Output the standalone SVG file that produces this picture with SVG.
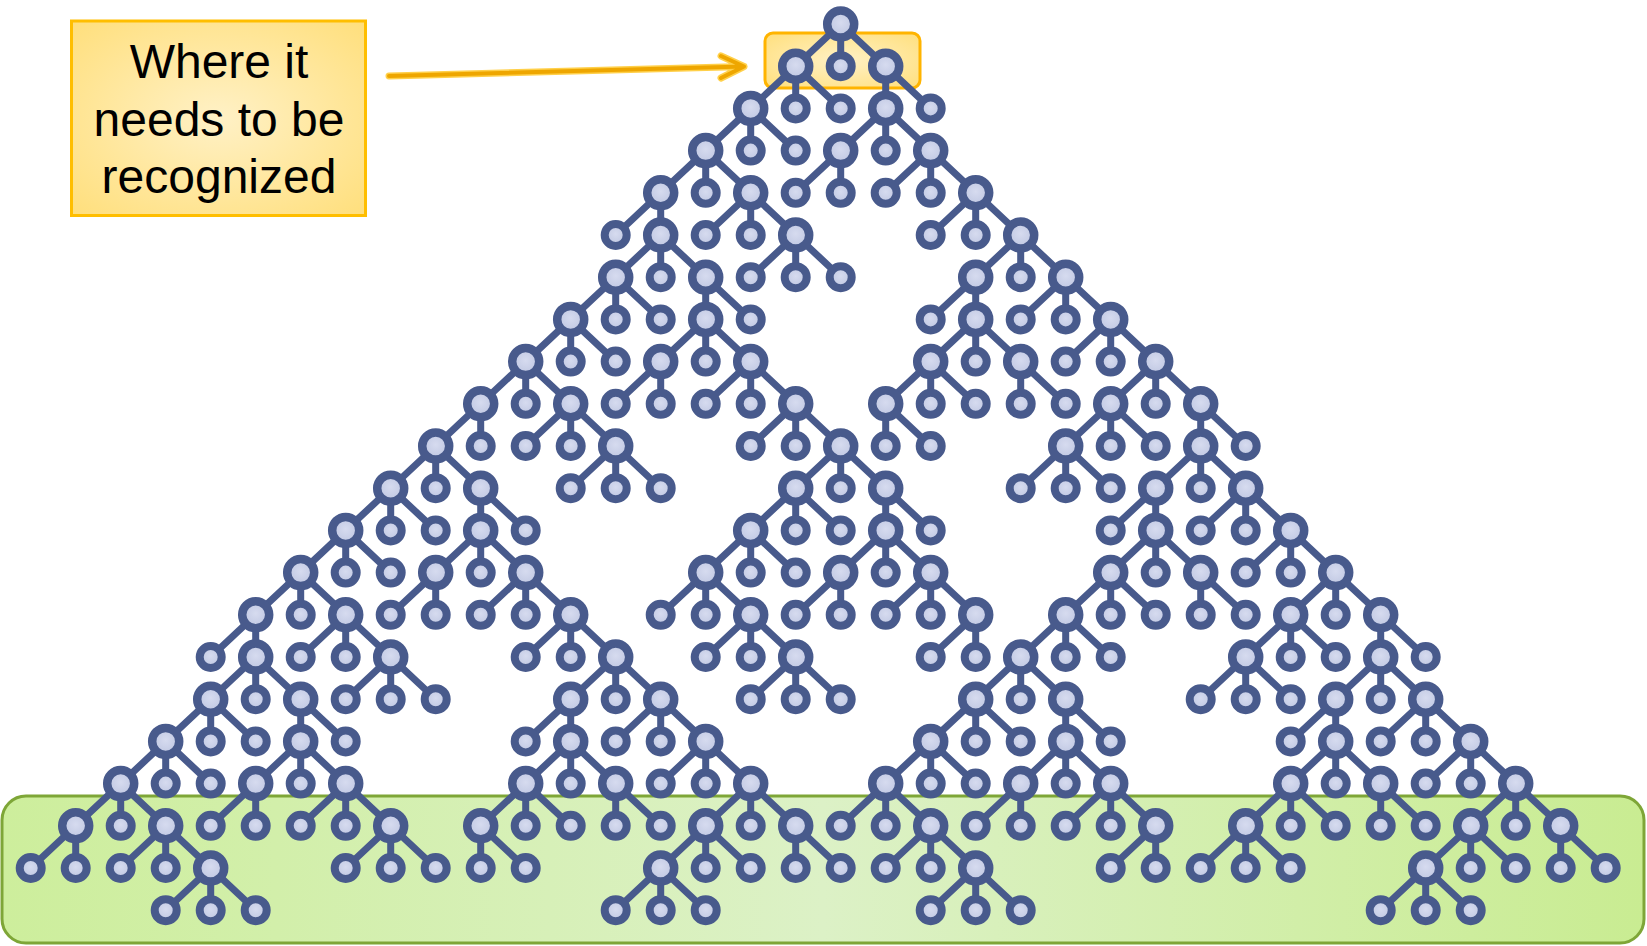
<svg xmlns="http://www.w3.org/2000/svg" width="1647" height="946" viewBox="0 0 1647 946">
<defs>
<radialGradient id="nf" cx="50%" cy="45%" r="60%"><stop offset="0" stop-color="#d6dbef"/><stop offset="1" stop-color="#bcc4e0"/></radialGradient>
<radialGradient id="yb" cx="50%" cy="50%" r="70%"><stop offset="0" stop-color="#fff1c6"/><stop offset="1" stop-color="#ffdf7c"/></radialGradient>
<linearGradient id="gb" x1="0" y1="0" x2="1" y2="0"><stop offset="0" stop-color="#cdee9c"/><stop offset="0.5" stop-color="#dcf1c6"/><stop offset="1" stop-color="#c9ec92"/></linearGradient>
<style>
.e{stroke:#485a8c;stroke-width:7;fill:none;stroke-linecap:round}
.b circle{fill:url(#nf);stroke:#485a8c;stroke-width:8.5}
.l circle{fill:url(#nf);stroke:#485a8c;stroke-width:8}
.lbl{font-family:"Liberation Sans",Arial,sans-serif;font-size:48px;fill:#000;text-anchor:middle}
</style>
</defs>
<g id="bottom-band"><rect x="2" y="796" width="1642" height="147" rx="24" fill="url(#gb)" stroke="#7ea637" stroke-width="3"/></g>
<g id="highlight"><rect x="765" y="33" width="155" height="55" rx="8" fill="url(#yb)" stroke="#ffb400" stroke-width="3"/></g>
<g id="callout"><rect x="71.5" y="21" width="294" height="194.5" fill="url(#yb)" stroke="#ffbe00" stroke-width="3"/>
<text class="lbl" x="219" y="78">Where it</text><text class="lbl" x="219" y="136">needs to be</text><text class="lbl" x="219" y="193">recognized</text></g>
<g id="arrow" fill="none" stroke-linecap="round" stroke-linejoin="round">
<path d="M389,76 Q560,72 744,66.5 M721,56 L744,66.5 L721,78" stroke="#ffd04a" stroke-width="7"/>
<path d="M389,76 Q560,72 744,66.5 M721,56 L744,66.5 L721,78" stroke="#eea600" stroke-width="4"/>
</g>
<g id="connectors" class="e">
<path d="M840.7,24L795.7,66.2M840.7,24L840.7,66.2M840.7,24L885.7,66.2"/>
<path d="M795.7,66.2L750.7,108.4M795.7,66.2L795.7,108.4M795.7,66.2L840.7,108.4"/>
<path d="M885.7,66.2L885.7,108.4M885.7,66.2L930.7,108.4"/>
<path d="M750.7,108.4L705.7,150.6M750.7,108.4L750.7,150.6M750.7,108.4L795.7,150.6"/>
<path d="M885.7,108.4L840.7,150.6M885.7,108.4L885.7,150.6M885.7,108.4L930.7,150.6"/>
<path d="M705.7,150.6L660.7,192.8M705.7,150.6L705.7,192.8M705.7,150.6L750.7,192.8"/>
<path d="M840.7,150.6L795.7,192.8M840.7,150.6L840.7,192.8"/>
<path d="M930.7,150.6L885.7,192.8M930.7,150.6L930.7,192.8M930.7,150.6L975.7,192.8"/>
<path d="M660.7,192.8L615.7,235M660.7,192.8L660.7,235"/>
<path d="M750.7,192.8L705.7,235M750.7,192.8L750.7,235M750.7,192.8L795.7,235"/>
<path d="M975.7,192.8L930.7,235M975.7,192.8L975.7,235M975.7,192.8L1020.7,235"/>
<path d="M660.7,235L615.7,277.2M660.7,235L660.7,277.2M660.7,235L705.7,277.2"/>
<path d="M795.7,235L750.7,277.2M795.7,235L795.7,277.2M795.7,235L840.7,277.2"/>
<path d="M1020.7,235L975.7,277.2M1020.7,235L1020.7,277.2M1020.7,235L1065.7,277.2"/>
<path d="M615.7,277.2L570.7,319.4M615.7,277.2L615.7,319.4M615.7,277.2L660.7,319.4"/>
<path d="M705.7,277.2L705.7,319.4M705.7,277.2L750.7,319.4"/>
<path d="M975.7,277.2L930.7,319.4M975.7,277.2L975.7,319.4"/>
<path d="M1065.7,277.2L1020.7,319.4M1065.7,277.2L1065.7,319.4M1065.7,277.2L1110.7,319.4"/>
<path d="M570.7,319.4L525.7,361.6M570.7,319.4L570.7,361.6M570.7,319.4L615.7,361.6"/>
<path d="M705.7,319.4L660.7,361.6M705.7,319.4L705.7,361.6M705.7,319.4L750.7,361.6"/>
<path d="M975.7,319.4L930.7,361.6M975.7,319.4L975.7,361.6M975.7,319.4L1020.7,361.6"/>
<path d="M1110.7,319.4L1065.7,361.6M1110.7,319.4L1110.7,361.6M1110.7,319.4L1155.7,361.6"/>
<path d="M525.7,361.6L480.7,403.8M525.7,361.6L525.7,403.8M525.7,361.6L570.7,403.8"/>
<path d="M660.7,361.6L615.7,403.8M660.7,361.6L660.7,403.8"/>
<path d="M750.7,361.6L705.7,403.8M750.7,361.6L750.7,403.8M750.7,361.6L795.7,403.8"/>
<path d="M930.7,361.6L885.7,403.8M930.7,361.6L930.7,403.8M930.7,361.6L975.7,403.8"/>
<path d="M1020.7,361.6L1020.7,403.8M1020.7,361.6L1065.7,403.8"/>
<path d="M1155.7,361.6L1110.7,403.8M1155.7,361.6L1155.7,403.8M1155.7,361.6L1200.7,403.8"/>
<path d="M480.7,403.8L435.7,446M480.7,403.8L480.7,446"/>
<path d="M570.7,403.8L525.7,446M570.7,403.8L570.7,446M570.7,403.8L615.7,446"/>
<path d="M795.7,403.8L750.7,446M795.7,403.8L795.7,446M795.7,403.8L840.7,446"/>
<path d="M885.7,403.8L885.7,446M885.7,403.8L930.7,446"/>
<path d="M1110.7,403.8L1065.7,446M1110.7,403.8L1110.7,446M1110.7,403.8L1155.7,446"/>
<path d="M1200.7,403.8L1200.7,446M1200.7,403.8L1245.7,446"/>
<path d="M435.7,446L390.7,488.2M435.7,446L435.7,488.2M435.7,446L480.7,488.2"/>
<path d="M615.7,446L570.7,488.2M615.7,446L615.7,488.2M615.7,446L660.7,488.2"/>
<path d="M840.7,446L795.7,488.2M840.7,446L840.7,488.2M840.7,446L885.7,488.2"/>
<path d="M1065.7,446L1020.7,488.2M1065.7,446L1065.7,488.2M1065.7,446L1110.7,488.2"/>
<path d="M1200.7,446L1155.7,488.2M1200.7,446L1200.7,488.2M1200.7,446L1245.7,488.2"/>
<path d="M390.7,488.2L345.7,530.4M390.7,488.2L390.7,530.4M390.7,488.2L435.7,530.4"/>
<path d="M480.7,488.2L480.7,530.4M480.7,488.2L525.7,530.4"/>
<path d="M795.7,488.2L750.7,530.4M795.7,488.2L795.7,530.4M795.7,488.2L840.7,530.4"/>
<path d="M885.7,488.2L885.7,530.4M885.7,488.2L930.7,530.4"/>
<path d="M1155.7,488.2L1110.7,530.4M1155.7,488.2L1155.7,530.4"/>
<path d="M1245.7,488.2L1200.7,530.4M1245.7,488.2L1245.7,530.4M1245.7,488.2L1290.7,530.4"/>
<path d="M345.7,530.4L300.7,572.6M345.7,530.4L345.7,572.6M345.7,530.4L390.7,572.6"/>
<path d="M480.7,530.4L435.7,572.6M480.7,530.4L480.7,572.6M480.7,530.4L525.7,572.6"/>
<path d="M750.7,530.4L705.7,572.6M750.7,530.4L750.7,572.6M750.7,530.4L795.7,572.6"/>
<path d="M885.7,530.4L840.7,572.6M885.7,530.4L885.7,572.6M885.7,530.4L930.7,572.6"/>
<path d="M1155.7,530.4L1110.7,572.6M1155.7,530.4L1155.7,572.6M1155.7,530.4L1200.7,572.6"/>
<path d="M1290.7,530.4L1245.7,572.6M1290.7,530.4L1290.7,572.6M1290.7,530.4L1335.7,572.6"/>
<path d="M300.7,572.6L255.7,614.8M300.7,572.6L300.7,614.8M300.7,572.6L345.7,614.8"/>
<path d="M435.7,572.6L390.7,614.8M435.7,572.6L435.7,614.8"/>
<path d="M525.7,572.6L480.7,614.8M525.7,572.6L525.7,614.8M525.7,572.6L570.7,614.8"/>
<path d="M705.7,572.6L660.7,614.8M705.7,572.6L705.7,614.8M705.7,572.6L750.7,614.8"/>
<path d="M840.7,572.6L795.7,614.8M840.7,572.6L840.7,614.8"/>
<path d="M930.7,572.6L885.7,614.8M930.7,572.6L930.7,614.8M930.7,572.6L975.7,614.8"/>
<path d="M1110.7,572.6L1065.7,614.8M1110.7,572.6L1110.7,614.8M1110.7,572.6L1155.7,614.8"/>
<path d="M1200.7,572.6L1200.7,614.8M1200.7,572.6L1245.7,614.8"/>
<path d="M1335.7,572.6L1290.7,614.8M1335.7,572.6L1335.7,614.8M1335.7,572.6L1380.7,614.8"/>
<path d="M255.7,614.8L210.7,657M255.7,614.8L255.7,657"/>
<path d="M345.7,614.8L300.7,657M345.7,614.8L345.7,657M345.7,614.8L390.7,657"/>
<path d="M570.7,614.8L525.7,657M570.7,614.8L570.7,657M570.7,614.8L615.7,657"/>
<path d="M750.7,614.8L705.7,657M750.7,614.8L750.7,657M750.7,614.8L795.7,657"/>
<path d="M975.7,614.8L930.7,657M975.7,614.8L975.7,657"/>
<path d="M1065.7,614.8L1020.7,657M1065.7,614.8L1065.7,657M1065.7,614.8L1110.7,657"/>
<path d="M1290.7,614.8L1245.7,657M1290.7,614.8L1290.7,657M1290.7,614.8L1335.7,657"/>
<path d="M1380.7,614.8L1380.7,657M1380.7,614.8L1425.7,657"/>
<path d="M255.7,657L210.7,699.2M255.7,657L255.7,699.2M255.7,657L300.7,699.2"/>
<path d="M390.7,657L345.7,699.2M390.7,657L390.7,699.2M390.7,657L435.7,699.2"/>
<path d="M615.7,657L570.7,699.2M615.7,657L615.7,699.2M615.7,657L660.7,699.2"/>
<path d="M795.7,657L750.7,699.2M795.7,657L795.7,699.2M795.7,657L840.7,699.2"/>
<path d="M1020.7,657L975.7,699.2M1020.7,657L1020.7,699.2M1020.7,657L1065.7,699.2"/>
<path d="M1245.7,657L1200.7,699.2M1245.7,657L1245.7,699.2M1245.7,657L1290.7,699.2"/>
<path d="M1380.7,657L1335.7,699.2M1380.7,657L1380.7,699.2M1380.7,657L1425.7,699.2"/>
<path d="M210.7,699.2L165.7,741.4M210.7,699.2L210.7,741.4M210.7,699.2L255.7,741.4"/>
<path d="M300.7,699.2L300.7,741.4M300.7,699.2L345.7,741.4"/>
<path d="M570.7,699.2L525.7,741.4M570.7,699.2L570.7,741.4"/>
<path d="M660.7,699.2L615.7,741.4M660.7,699.2L660.7,741.4M660.7,699.2L705.7,741.4"/>
<path d="M975.7,699.2L930.7,741.4M975.7,699.2L975.7,741.4M975.7,699.2L1020.7,741.4"/>
<path d="M1065.7,699.2L1065.7,741.4M1065.7,699.2L1110.7,741.4"/>
<path d="M1335.7,699.2L1290.7,741.4M1335.7,699.2L1335.7,741.4"/>
<path d="M1425.7,699.2L1380.7,741.4M1425.7,699.2L1425.7,741.4M1425.7,699.2L1470.7,741.4"/>
<path d="M165.7,741.4L120.7,783.6M165.7,741.4L165.7,783.6M165.7,741.4L210.7,783.6"/>
<path d="M300.7,741.4L255.7,783.6M300.7,741.4L300.7,783.6M300.7,741.4L345.7,783.6"/>
<path d="M570.7,741.4L525.7,783.6M570.7,741.4L570.7,783.6M570.7,741.4L615.7,783.6"/>
<path d="M705.7,741.4L660.7,783.6M705.7,741.4L705.7,783.6M705.7,741.4L750.7,783.6"/>
<path d="M930.7,741.4L885.7,783.6M930.7,741.4L930.7,783.6M930.7,741.4L975.7,783.6"/>
<path d="M1065.7,741.4L1020.7,783.6M1065.7,741.4L1065.7,783.6M1065.7,741.4L1110.7,783.6"/>
<path d="M1335.7,741.4L1290.7,783.6M1335.7,741.4L1335.7,783.6M1335.7,741.4L1380.7,783.6"/>
<path d="M1470.7,741.4L1425.7,783.6M1470.7,741.4L1470.7,783.6M1470.7,741.4L1515.7,783.6"/>
<path d="M120.7,783.6L75.7,825.8M120.7,783.6L120.7,825.8M120.7,783.6L165.7,825.8"/>
<path d="M255.7,783.6L210.7,825.8M255.7,783.6L255.7,825.8"/>
<path d="M345.7,783.6L300.7,825.8M345.7,783.6L345.7,825.8M345.7,783.6L390.7,825.8"/>
<path d="M525.7,783.6L480.7,825.8M525.7,783.6L525.7,825.8M525.7,783.6L570.7,825.8"/>
<path d="M615.7,783.6L615.7,825.8M615.7,783.6L660.7,825.8"/>
<path d="M750.7,783.6L705.7,825.8M750.7,783.6L750.7,825.8M750.7,783.6L795.7,825.8"/>
<path d="M885.7,783.6L840.7,825.8M885.7,783.6L885.7,825.8M885.7,783.6L930.7,825.8"/>
<path d="M1020.7,783.6L975.7,825.8M1020.7,783.6L1020.7,825.8"/>
<path d="M1110.7,783.6L1065.7,825.8M1110.7,783.6L1110.7,825.8M1110.7,783.6L1155.7,825.8"/>
<path d="M1290.7,783.6L1245.7,825.8M1290.7,783.6L1290.7,825.8M1290.7,783.6L1335.7,825.8"/>
<path d="M1380.7,783.6L1380.7,825.8M1380.7,783.6L1425.7,825.8"/>
<path d="M1515.7,783.6L1470.7,825.8M1515.7,783.6L1515.7,825.8M1515.7,783.6L1560.7,825.8"/>
<path d="M75.7,825.8L30.7,868M75.7,825.8L75.7,868"/>
<path d="M165.7,825.8L120.7,868M165.7,825.8L165.7,868M165.7,825.8L210.7,868"/>
<path d="M390.7,825.8L345.7,868M390.7,825.8L390.7,868M390.7,825.8L435.7,868"/>
<path d="M480.7,825.8L480.7,868M480.7,825.8L525.7,868"/>
<path d="M705.7,825.8L660.7,868M705.7,825.8L705.7,868M705.7,825.8L750.7,868"/>
<path d="M795.7,825.8L795.7,868M795.7,825.8L840.7,868"/>
<path d="M930.7,825.8L885.7,868M930.7,825.8L930.7,868M930.7,825.8L975.7,868"/>
<path d="M1155.7,825.8L1110.7,868M1155.7,825.8L1155.7,868"/>
<path d="M1245.7,825.8L1200.7,868M1245.7,825.8L1245.7,868M1245.7,825.8L1290.7,868"/>
<path d="M1470.7,825.8L1425.7,868M1470.7,825.8L1470.7,868M1470.7,825.8L1515.7,868"/>
<path d="M1560.7,825.8L1560.7,868M1560.7,825.8L1605.7,868"/>
<path d="M210.7,868L165.7,910.2M210.7,868L210.7,910.2M210.7,868L255.7,910.2"/>
<path d="M660.7,868L615.7,910.2M660.7,868L660.7,910.2M660.7,868L705.7,910.2"/>
<path d="M975.7,868L930.7,910.2M975.7,868L975.7,910.2M975.7,868L1020.7,910.2"/>
<path d="M1425.7,868L1380.7,910.2M1425.7,868L1425.7,910.2M1425.7,868L1470.7,910.2"/>
</g>
<g id="nodes">
<g id="n0_0" class="b"><circle cx="840.7" cy="24" r="13.5"/></g>
<g id="n1_m1" class="b"><circle cx="795.7" cy="66.2" r="13.5"/></g>
<g id="n1_0" class="l"><circle cx="840.7" cy="66.2" r="11"/></g>
<g id="n1_1" class="b"><circle cx="885.7" cy="66.2" r="13.5"/></g>
<g id="n2_m2" class="b"><circle cx="750.7" cy="108.4" r="13.5"/></g>
<g id="n2_m1" class="l"><circle cx="795.7" cy="108.4" r="11"/></g>
<g id="n2_0" class="l"><circle cx="840.7" cy="108.4" r="11"/></g>
<g id="n2_1" class="b"><circle cx="885.7" cy="108.4" r="13.5"/></g>
<g id="n2_2" class="l"><circle cx="930.7" cy="108.4" r="11"/></g>
<g id="n3_m3" class="b"><circle cx="705.7" cy="150.6" r="13.5"/></g>
<g id="n3_m2" class="l"><circle cx="750.7" cy="150.6" r="11"/></g>
<g id="n3_m1" class="l"><circle cx="795.7" cy="150.6" r="11"/></g>
<g id="n3_0" class="b"><circle cx="840.7" cy="150.6" r="13.5"/></g>
<g id="n3_1" class="l"><circle cx="885.7" cy="150.6" r="11"/></g>
<g id="n3_2" class="b"><circle cx="930.7" cy="150.6" r="13.5"/></g>
<g id="n4_m4" class="b"><circle cx="660.7" cy="192.8" r="13.5"/></g>
<g id="n4_m3" class="l"><circle cx="705.7" cy="192.8" r="11"/></g>
<g id="n4_m2" class="b"><circle cx="750.7" cy="192.8" r="13.5"/></g>
<g id="n4_m1" class="l"><circle cx="795.7" cy="192.8" r="11"/></g>
<g id="n4_0" class="l"><circle cx="840.7" cy="192.8" r="11"/></g>
<g id="n4_1" class="l"><circle cx="885.7" cy="192.8" r="11"/></g>
<g id="n4_2" class="l"><circle cx="930.7" cy="192.8" r="11"/></g>
<g id="n4_3" class="b"><circle cx="975.7" cy="192.8" r="13.5"/></g>
<g id="n5_m5" class="l"><circle cx="615.7" cy="235" r="11"/></g>
<g id="n5_m4" class="b"><circle cx="660.7" cy="235" r="13.5"/></g>
<g id="n5_m3" class="l"><circle cx="705.7" cy="235" r="11"/></g>
<g id="n5_m2" class="l"><circle cx="750.7" cy="235" r="11"/></g>
<g id="n5_m1" class="b"><circle cx="795.7" cy="235" r="13.5"/></g>
<g id="n5_2" class="l"><circle cx="930.7" cy="235" r="11"/></g>
<g id="n5_3" class="l"><circle cx="975.7" cy="235" r="11"/></g>
<g id="n5_4" class="b"><circle cx="1020.7" cy="235" r="13.5"/></g>
<g id="n6_m5" class="b"><circle cx="615.7" cy="277.2" r="13.5"/></g>
<g id="n6_m4" class="l"><circle cx="660.7" cy="277.2" r="11"/></g>
<g id="n6_m3" class="b"><circle cx="705.7" cy="277.2" r="13.5"/></g>
<g id="n6_m2" class="l"><circle cx="750.7" cy="277.2" r="11"/></g>
<g id="n6_m1" class="l"><circle cx="795.7" cy="277.2" r="11"/></g>
<g id="n6_0" class="l"><circle cx="840.7" cy="277.2" r="11"/></g>
<g id="n6_3" class="b"><circle cx="975.7" cy="277.2" r="13.5"/></g>
<g id="n6_4" class="l"><circle cx="1020.7" cy="277.2" r="11"/></g>
<g id="n6_5" class="b"><circle cx="1065.7" cy="277.2" r="13.5"/></g>
<g id="n7_m6" class="b"><circle cx="570.7" cy="319.4" r="13.5"/></g>
<g id="n7_m5" class="l"><circle cx="615.7" cy="319.4" r="11"/></g>
<g id="n7_m4" class="l"><circle cx="660.7" cy="319.4" r="11"/></g>
<g id="n7_m3" class="b"><circle cx="705.7" cy="319.4" r="13.5"/></g>
<g id="n7_m2" class="l"><circle cx="750.7" cy="319.4" r="11"/></g>
<g id="n7_2" class="l"><circle cx="930.7" cy="319.4" r="11"/></g>
<g id="n7_3" class="b"><circle cx="975.7" cy="319.4" r="13.5"/></g>
<g id="n7_4" class="l"><circle cx="1020.7" cy="319.4" r="11"/></g>
<g id="n7_5" class="l"><circle cx="1065.7" cy="319.4" r="11"/></g>
<g id="n7_6" class="b"><circle cx="1110.7" cy="319.4" r="13.5"/></g>
<g id="n8_m7" class="b"><circle cx="525.7" cy="361.6" r="13.5"/></g>
<g id="n8_m6" class="l"><circle cx="570.7" cy="361.6" r="11"/></g>
<g id="n8_m5" class="l"><circle cx="615.7" cy="361.6" r="11"/></g>
<g id="n8_m4" class="b"><circle cx="660.7" cy="361.6" r="13.5"/></g>
<g id="n8_m3" class="l"><circle cx="705.7" cy="361.6" r="11"/></g>
<g id="n8_m2" class="b"><circle cx="750.7" cy="361.6" r="13.5"/></g>
<g id="n8_2" class="b"><circle cx="930.7" cy="361.6" r="13.5"/></g>
<g id="n8_3" class="l"><circle cx="975.7" cy="361.6" r="11"/></g>
<g id="n8_4" class="b"><circle cx="1020.7" cy="361.6" r="13.5"/></g>
<g id="n8_5" class="l"><circle cx="1065.7" cy="361.6" r="11"/></g>
<g id="n8_6" class="l"><circle cx="1110.7" cy="361.6" r="11"/></g>
<g id="n8_7" class="b"><circle cx="1155.7" cy="361.6" r="13.5"/></g>
<g id="n9_m8" class="b"><circle cx="480.7" cy="403.8" r="13.5"/></g>
<g id="n9_m7" class="l"><circle cx="525.7" cy="403.8" r="11"/></g>
<g id="n9_m6" class="b"><circle cx="570.7" cy="403.8" r="13.5"/></g>
<g id="n9_m5" class="l"><circle cx="615.7" cy="403.8" r="11"/></g>
<g id="n9_m4" class="l"><circle cx="660.7" cy="403.8" r="11"/></g>
<g id="n9_m3" class="l"><circle cx="705.7" cy="403.8" r="11"/></g>
<g id="n9_m2" class="l"><circle cx="750.7" cy="403.8" r="11"/></g>
<g id="n9_m1" class="b"><circle cx="795.7" cy="403.8" r="13.5"/></g>
<g id="n9_1" class="b"><circle cx="885.7" cy="403.8" r="13.5"/></g>
<g id="n9_2" class="l"><circle cx="930.7" cy="403.8" r="11"/></g>
<g id="n9_3" class="l"><circle cx="975.7" cy="403.8" r="11"/></g>
<g id="n9_4" class="l"><circle cx="1020.7" cy="403.8" r="11"/></g>
<g id="n9_5" class="l"><circle cx="1065.7" cy="403.8" r="11"/></g>
<g id="n9_6" class="b"><circle cx="1110.7" cy="403.8" r="13.5"/></g>
<g id="n9_7" class="l"><circle cx="1155.7" cy="403.8" r="11"/></g>
<g id="n9_8" class="b"><circle cx="1200.7" cy="403.8" r="13.5"/></g>
<g id="n10_m9" class="b"><circle cx="435.7" cy="446" r="13.5"/></g>
<g id="n10_m8" class="l"><circle cx="480.7" cy="446" r="11"/></g>
<g id="n10_m7" class="l"><circle cx="525.7" cy="446" r="11"/></g>
<g id="n10_m6" class="l"><circle cx="570.7" cy="446" r="11"/></g>
<g id="n10_m5" class="b"><circle cx="615.7" cy="446" r="13.5"/></g>
<g id="n10_m2" class="l"><circle cx="750.7" cy="446" r="11"/></g>
<g id="n10_m1" class="l"><circle cx="795.7" cy="446" r="11"/></g>
<g id="n10_0" class="b"><circle cx="840.7" cy="446" r="13.5"/></g>
<g id="n10_1" class="l"><circle cx="885.7" cy="446" r="11"/></g>
<g id="n10_2" class="l"><circle cx="930.7" cy="446" r="11"/></g>
<g id="n10_5" class="b"><circle cx="1065.7" cy="446" r="13.5"/></g>
<g id="n10_6" class="l"><circle cx="1110.7" cy="446" r="11"/></g>
<g id="n10_7" class="l"><circle cx="1155.7" cy="446" r="11"/></g>
<g id="n10_8" class="b"><circle cx="1200.7" cy="446" r="13.5"/></g>
<g id="n10_9" class="l"><circle cx="1245.7" cy="446" r="11"/></g>
<g id="n11_m10" class="b"><circle cx="390.7" cy="488.2" r="13.5"/></g>
<g id="n11_m9" class="l"><circle cx="435.7" cy="488.2" r="11"/></g>
<g id="n11_m8" class="b"><circle cx="480.7" cy="488.2" r="13.5"/></g>
<g id="n11_m6" class="l"><circle cx="570.7" cy="488.2" r="11"/></g>
<g id="n11_m5" class="l"><circle cx="615.7" cy="488.2" r="11"/></g>
<g id="n11_m4" class="l"><circle cx="660.7" cy="488.2" r="11"/></g>
<g id="n11_m1" class="b"><circle cx="795.7" cy="488.2" r="13.5"/></g>
<g id="n11_0" class="l"><circle cx="840.7" cy="488.2" r="11"/></g>
<g id="n11_1" class="b"><circle cx="885.7" cy="488.2" r="13.5"/></g>
<g id="n11_4" class="l"><circle cx="1020.7" cy="488.2" r="11"/></g>
<g id="n11_5" class="l"><circle cx="1065.7" cy="488.2" r="11"/></g>
<g id="n11_6" class="l"><circle cx="1110.7" cy="488.2" r="11"/></g>
<g id="n11_7" class="b"><circle cx="1155.7" cy="488.2" r="13.5"/></g>
<g id="n11_8" class="l"><circle cx="1200.7" cy="488.2" r="11"/></g>
<g id="n11_9" class="b"><circle cx="1245.7" cy="488.2" r="13.5"/></g>
<g id="n12_m11" class="b"><circle cx="345.7" cy="530.4" r="13.5"/></g>
<g id="n12_m10" class="l"><circle cx="390.7" cy="530.4" r="11"/></g>
<g id="n12_m9" class="l"><circle cx="435.7" cy="530.4" r="11"/></g>
<g id="n12_m8" class="b"><circle cx="480.7" cy="530.4" r="13.5"/></g>
<g id="n12_m7" class="l"><circle cx="525.7" cy="530.4" r="11"/></g>
<g id="n12_m2" class="b"><circle cx="750.7" cy="530.4" r="13.5"/></g>
<g id="n12_m1" class="l"><circle cx="795.7" cy="530.4" r="11"/></g>
<g id="n12_0" class="l"><circle cx="840.7" cy="530.4" r="11"/></g>
<g id="n12_1" class="b"><circle cx="885.7" cy="530.4" r="13.5"/></g>
<g id="n12_2" class="l"><circle cx="930.7" cy="530.4" r="11"/></g>
<g id="n12_6" class="l"><circle cx="1110.7" cy="530.4" r="11"/></g>
<g id="n12_7" class="b"><circle cx="1155.7" cy="530.4" r="13.5"/></g>
<g id="n12_8" class="l"><circle cx="1200.7" cy="530.4" r="11"/></g>
<g id="n12_9" class="l"><circle cx="1245.7" cy="530.4" r="11"/></g>
<g id="n12_10" class="b"><circle cx="1290.7" cy="530.4" r="13.5"/></g>
<g id="n13_m12" class="b"><circle cx="300.7" cy="572.6" r="13.5"/></g>
<g id="n13_m11" class="l"><circle cx="345.7" cy="572.6" r="11"/></g>
<g id="n13_m10" class="l"><circle cx="390.7" cy="572.6" r="11"/></g>
<g id="n13_m9" class="b"><circle cx="435.7" cy="572.6" r="13.5"/></g>
<g id="n13_m8" class="l"><circle cx="480.7" cy="572.6" r="11"/></g>
<g id="n13_m7" class="b"><circle cx="525.7" cy="572.6" r="13.5"/></g>
<g id="n13_m3" class="b"><circle cx="705.7" cy="572.6" r="13.5"/></g>
<g id="n13_m2" class="l"><circle cx="750.7" cy="572.6" r="11"/></g>
<g id="n13_m1" class="l"><circle cx="795.7" cy="572.6" r="11"/></g>
<g id="n13_0" class="b"><circle cx="840.7" cy="572.6" r="13.5"/></g>
<g id="n13_1" class="l"><circle cx="885.7" cy="572.6" r="11"/></g>
<g id="n13_2" class="b"><circle cx="930.7" cy="572.6" r="13.5"/></g>
<g id="n13_6" class="b"><circle cx="1110.7" cy="572.6" r="13.5"/></g>
<g id="n13_7" class="l"><circle cx="1155.7" cy="572.6" r="11"/></g>
<g id="n13_8" class="b"><circle cx="1200.7" cy="572.6" r="13.5"/></g>
<g id="n13_9" class="l"><circle cx="1245.7" cy="572.6" r="11"/></g>
<g id="n13_10" class="l"><circle cx="1290.7" cy="572.6" r="11"/></g>
<g id="n13_11" class="b"><circle cx="1335.7" cy="572.6" r="13.5"/></g>
<g id="n14_m13" class="b"><circle cx="255.7" cy="614.8" r="13.5"/></g>
<g id="n14_m12" class="l"><circle cx="300.7" cy="614.8" r="11"/></g>
<g id="n14_m11" class="b"><circle cx="345.7" cy="614.8" r="13.5"/></g>
<g id="n14_m10" class="l"><circle cx="390.7" cy="614.8" r="11"/></g>
<g id="n14_m9" class="l"><circle cx="435.7" cy="614.8" r="11"/></g>
<g id="n14_m8" class="l"><circle cx="480.7" cy="614.8" r="11"/></g>
<g id="n14_m7" class="l"><circle cx="525.7" cy="614.8" r="11"/></g>
<g id="n14_m6" class="b"><circle cx="570.7" cy="614.8" r="13.5"/></g>
<g id="n14_m4" class="l"><circle cx="660.7" cy="614.8" r="11"/></g>
<g id="n14_m3" class="l"><circle cx="705.7" cy="614.8" r="11"/></g>
<g id="n14_m2" class="b"><circle cx="750.7" cy="614.8" r="13.5"/></g>
<g id="n14_m1" class="l"><circle cx="795.7" cy="614.8" r="11"/></g>
<g id="n14_0" class="l"><circle cx="840.7" cy="614.8" r="11"/></g>
<g id="n14_1" class="l"><circle cx="885.7" cy="614.8" r="11"/></g>
<g id="n14_2" class="l"><circle cx="930.7" cy="614.8" r="11"/></g>
<g id="n14_3" class="b"><circle cx="975.7" cy="614.8" r="13.5"/></g>
<g id="n14_5" class="b"><circle cx="1065.7" cy="614.8" r="13.5"/></g>
<g id="n14_6" class="l"><circle cx="1110.7" cy="614.8" r="11"/></g>
<g id="n14_7" class="l"><circle cx="1155.7" cy="614.8" r="11"/></g>
<g id="n14_8" class="l"><circle cx="1200.7" cy="614.8" r="11"/></g>
<g id="n14_9" class="l"><circle cx="1245.7" cy="614.8" r="11"/></g>
<g id="n14_10" class="b"><circle cx="1290.7" cy="614.8" r="13.5"/></g>
<g id="n14_11" class="l"><circle cx="1335.7" cy="614.8" r="11"/></g>
<g id="n14_12" class="b"><circle cx="1380.7" cy="614.8" r="13.5"/></g>
<g id="n15_m14" class="l"><circle cx="210.7" cy="657" r="11"/></g>
<g id="n15_m13" class="b"><circle cx="255.7" cy="657" r="13.5"/></g>
<g id="n15_m12" class="l"><circle cx="300.7" cy="657" r="11"/></g>
<g id="n15_m11" class="l"><circle cx="345.7" cy="657" r="11"/></g>
<g id="n15_m10" class="b"><circle cx="390.7" cy="657" r="13.5"/></g>
<g id="n15_m7" class="l"><circle cx="525.7" cy="657" r="11"/></g>
<g id="n15_m6" class="l"><circle cx="570.7" cy="657" r="11"/></g>
<g id="n15_m5" class="b"><circle cx="615.7" cy="657" r="13.5"/></g>
<g id="n15_m3" class="l"><circle cx="705.7" cy="657" r="11"/></g>
<g id="n15_m2" class="l"><circle cx="750.7" cy="657" r="11"/></g>
<g id="n15_m1" class="b"><circle cx="795.7" cy="657" r="13.5"/></g>
<g id="n15_2" class="l"><circle cx="930.7" cy="657" r="11"/></g>
<g id="n15_3" class="l"><circle cx="975.7" cy="657" r="11"/></g>
<g id="n15_4" class="b"><circle cx="1020.7" cy="657" r="13.5"/></g>
<g id="n15_5" class="l"><circle cx="1065.7" cy="657" r="11"/></g>
<g id="n15_6" class="l"><circle cx="1110.7" cy="657" r="11"/></g>
<g id="n15_9" class="b"><circle cx="1245.7" cy="657" r="13.5"/></g>
<g id="n15_10" class="l"><circle cx="1290.7" cy="657" r="11"/></g>
<g id="n15_11" class="l"><circle cx="1335.7" cy="657" r="11"/></g>
<g id="n15_12" class="b"><circle cx="1380.7" cy="657" r="13.5"/></g>
<g id="n15_13" class="l"><circle cx="1425.7" cy="657" r="11"/></g>
<g id="n16_m14" class="b"><circle cx="210.7" cy="699.2" r="13.5"/></g>
<g id="n16_m13" class="l"><circle cx="255.7" cy="699.2" r="11"/></g>
<g id="n16_m12" class="b"><circle cx="300.7" cy="699.2" r="13.5"/></g>
<g id="n16_m11" class="l"><circle cx="345.7" cy="699.2" r="11"/></g>
<g id="n16_m10" class="l"><circle cx="390.7" cy="699.2" r="11"/></g>
<g id="n16_m9" class="l"><circle cx="435.7" cy="699.2" r="11"/></g>
<g id="n16_m6" class="b"><circle cx="570.7" cy="699.2" r="13.5"/></g>
<g id="n16_m5" class="l"><circle cx="615.7" cy="699.2" r="11"/></g>
<g id="n16_m4" class="b"><circle cx="660.7" cy="699.2" r="13.5"/></g>
<g id="n16_m2" class="l"><circle cx="750.7" cy="699.2" r="11"/></g>
<g id="n16_m1" class="l"><circle cx="795.7" cy="699.2" r="11"/></g>
<g id="n16_0" class="l"><circle cx="840.7" cy="699.2" r="11"/></g>
<g id="n16_3" class="b"><circle cx="975.7" cy="699.2" r="13.5"/></g>
<g id="n16_4" class="l"><circle cx="1020.7" cy="699.2" r="11"/></g>
<g id="n16_5" class="b"><circle cx="1065.7" cy="699.2" r="13.5"/></g>
<g id="n16_8" class="l"><circle cx="1200.7" cy="699.2" r="11"/></g>
<g id="n16_9" class="l"><circle cx="1245.7" cy="699.2" r="11"/></g>
<g id="n16_10" class="l"><circle cx="1290.7" cy="699.2" r="11"/></g>
<g id="n16_11" class="b"><circle cx="1335.7" cy="699.2" r="13.5"/></g>
<g id="n16_12" class="l"><circle cx="1380.7" cy="699.2" r="11"/></g>
<g id="n16_13" class="b"><circle cx="1425.7" cy="699.2" r="13.5"/></g>
<g id="n17_m15" class="b"><circle cx="165.7" cy="741.4" r="13.5"/></g>
<g id="n17_m14" class="l"><circle cx="210.7" cy="741.4" r="11"/></g>
<g id="n17_m13" class="l"><circle cx="255.7" cy="741.4" r="11"/></g>
<g id="n17_m12" class="b"><circle cx="300.7" cy="741.4" r="13.5"/></g>
<g id="n17_m11" class="l"><circle cx="345.7" cy="741.4" r="11"/></g>
<g id="n17_m7" class="l"><circle cx="525.7" cy="741.4" r="11"/></g>
<g id="n17_m6" class="b"><circle cx="570.7" cy="741.4" r="13.5"/></g>
<g id="n17_m5" class="l"><circle cx="615.7" cy="741.4" r="11"/></g>
<g id="n17_m4" class="l"><circle cx="660.7" cy="741.4" r="11"/></g>
<g id="n17_m3" class="b"><circle cx="705.7" cy="741.4" r="13.5"/></g>
<g id="n17_2" class="b"><circle cx="930.7" cy="741.4" r="13.5"/></g>
<g id="n17_3" class="l"><circle cx="975.7" cy="741.4" r="11"/></g>
<g id="n17_4" class="l"><circle cx="1020.7" cy="741.4" r="11"/></g>
<g id="n17_5" class="b"><circle cx="1065.7" cy="741.4" r="13.5"/></g>
<g id="n17_6" class="l"><circle cx="1110.7" cy="741.4" r="11"/></g>
<g id="n17_10" class="l"><circle cx="1290.7" cy="741.4" r="11"/></g>
<g id="n17_11" class="b"><circle cx="1335.7" cy="741.4" r="13.5"/></g>
<g id="n17_12" class="l"><circle cx="1380.7" cy="741.4" r="11"/></g>
<g id="n17_13" class="l"><circle cx="1425.7" cy="741.4" r="11"/></g>
<g id="n17_14" class="b"><circle cx="1470.7" cy="741.4" r="13.5"/></g>
<g id="n18_m16" class="b"><circle cx="120.7" cy="783.6" r="13.5"/></g>
<g id="n18_m15" class="l"><circle cx="165.7" cy="783.6" r="11"/></g>
<g id="n18_m14" class="l"><circle cx="210.7" cy="783.6" r="11"/></g>
<g id="n18_m13" class="b"><circle cx="255.7" cy="783.6" r="13.5"/></g>
<g id="n18_m12" class="l"><circle cx="300.7" cy="783.6" r="11"/></g>
<g id="n18_m11" class="b"><circle cx="345.7" cy="783.6" r="13.5"/></g>
<g id="n18_m7" class="b"><circle cx="525.7" cy="783.6" r="13.5"/></g>
<g id="n18_m6" class="l"><circle cx="570.7" cy="783.6" r="11"/></g>
<g id="n18_m5" class="b"><circle cx="615.7" cy="783.6" r="13.5"/></g>
<g id="n18_m4" class="l"><circle cx="660.7" cy="783.6" r="11"/></g>
<g id="n18_m3" class="l"><circle cx="705.7" cy="783.6" r="11"/></g>
<g id="n18_m2" class="b"><circle cx="750.7" cy="783.6" r="13.5"/></g>
<g id="n18_1" class="b"><circle cx="885.7" cy="783.6" r="13.5"/></g>
<g id="n18_2" class="l"><circle cx="930.7" cy="783.6" r="11"/></g>
<g id="n18_3" class="l"><circle cx="975.7" cy="783.6" r="11"/></g>
<g id="n18_4" class="b"><circle cx="1020.7" cy="783.6" r="13.5"/></g>
<g id="n18_5" class="l"><circle cx="1065.7" cy="783.6" r="11"/></g>
<g id="n18_6" class="b"><circle cx="1110.7" cy="783.6" r="13.5"/></g>
<g id="n18_10" class="b"><circle cx="1290.7" cy="783.6" r="13.5"/></g>
<g id="n18_11" class="l"><circle cx="1335.7" cy="783.6" r="11"/></g>
<g id="n18_12" class="b"><circle cx="1380.7" cy="783.6" r="13.5"/></g>
<g id="n18_13" class="l"><circle cx="1425.7" cy="783.6" r="11"/></g>
<g id="n18_14" class="l"><circle cx="1470.7" cy="783.6" r="11"/></g>
<g id="n18_15" class="b"><circle cx="1515.7" cy="783.6" r="13.5"/></g>
<g id="n19_m17" class="b"><circle cx="75.7" cy="825.8" r="13.5"/></g>
<g id="n19_m16" class="l"><circle cx="120.7" cy="825.8" r="11"/></g>
<g id="n19_m15" class="b"><circle cx="165.7" cy="825.8" r="13.5"/></g>
<g id="n19_m14" class="l"><circle cx="210.7" cy="825.8" r="11"/></g>
<g id="n19_m13" class="l"><circle cx="255.7" cy="825.8" r="11"/></g>
<g id="n19_m12" class="l"><circle cx="300.7" cy="825.8" r="11"/></g>
<g id="n19_m11" class="l"><circle cx="345.7" cy="825.8" r="11"/></g>
<g id="n19_m10" class="b"><circle cx="390.7" cy="825.8" r="13.5"/></g>
<g id="n19_m8" class="b"><circle cx="480.7" cy="825.8" r="13.5"/></g>
<g id="n19_m7" class="l"><circle cx="525.7" cy="825.8" r="11"/></g>
<g id="n19_m6" class="l"><circle cx="570.7" cy="825.8" r="11"/></g>
<g id="n19_m5" class="l"><circle cx="615.7" cy="825.8" r="11"/></g>
<g id="n19_m4" class="l"><circle cx="660.7" cy="825.8" r="11"/></g>
<g id="n19_m3" class="b"><circle cx="705.7" cy="825.8" r="13.5"/></g>
<g id="n19_m2" class="l"><circle cx="750.7" cy="825.8" r="11"/></g>
<g id="n19_m1" class="b"><circle cx="795.7" cy="825.8" r="13.5"/></g>
<g id="n19_0" class="l"><circle cx="840.7" cy="825.8" r="11"/></g>
<g id="n19_1" class="l"><circle cx="885.7" cy="825.8" r="11"/></g>
<g id="n19_2" class="b"><circle cx="930.7" cy="825.8" r="13.5"/></g>
<g id="n19_3" class="l"><circle cx="975.7" cy="825.8" r="11"/></g>
<g id="n19_4" class="l"><circle cx="1020.7" cy="825.8" r="11"/></g>
<g id="n19_5" class="l"><circle cx="1065.7" cy="825.8" r="11"/></g>
<g id="n19_6" class="l"><circle cx="1110.7" cy="825.8" r="11"/></g>
<g id="n19_7" class="b"><circle cx="1155.7" cy="825.8" r="13.5"/></g>
<g id="n19_9" class="b"><circle cx="1245.7" cy="825.8" r="13.5"/></g>
<g id="n19_10" class="l"><circle cx="1290.7" cy="825.8" r="11"/></g>
<g id="n19_11" class="l"><circle cx="1335.7" cy="825.8" r="11"/></g>
<g id="n19_12" class="l"><circle cx="1380.7" cy="825.8" r="11"/></g>
<g id="n19_13" class="l"><circle cx="1425.7" cy="825.8" r="11"/></g>
<g id="n19_14" class="b"><circle cx="1470.7" cy="825.8" r="13.5"/></g>
<g id="n19_15" class="l"><circle cx="1515.7" cy="825.8" r="11"/></g>
<g id="n19_16" class="b"><circle cx="1560.7" cy="825.8" r="13.5"/></g>
<g id="n20_m18" class="l"><circle cx="30.7" cy="868" r="11"/></g>
<g id="n20_m17" class="l"><circle cx="75.7" cy="868" r="11"/></g>
<g id="n20_m16" class="l"><circle cx="120.7" cy="868" r="11"/></g>
<g id="n20_m15" class="l"><circle cx="165.7" cy="868" r="11"/></g>
<g id="n20_m14" class="b"><circle cx="210.7" cy="868" r="13.5"/></g>
<g id="n20_m11" class="l"><circle cx="345.7" cy="868" r="11"/></g>
<g id="n20_m10" class="l"><circle cx="390.7" cy="868" r="11"/></g>
<g id="n20_m9" class="l"><circle cx="435.7" cy="868" r="11"/></g>
<g id="n20_m8" class="l"><circle cx="480.7" cy="868" r="11"/></g>
<g id="n20_m7" class="l"><circle cx="525.7" cy="868" r="11"/></g>
<g id="n20_m4" class="b"><circle cx="660.7" cy="868" r="13.5"/></g>
<g id="n20_m3" class="l"><circle cx="705.7" cy="868" r="11"/></g>
<g id="n20_m2" class="l"><circle cx="750.7" cy="868" r="11"/></g>
<g id="n20_m1" class="l"><circle cx="795.7" cy="868" r="11"/></g>
<g id="n20_0" class="l"><circle cx="840.7" cy="868" r="11"/></g>
<g id="n20_1" class="l"><circle cx="885.7" cy="868" r="11"/></g>
<g id="n20_2" class="l"><circle cx="930.7" cy="868" r="11"/></g>
<g id="n20_3" class="b"><circle cx="975.7" cy="868" r="13.5"/></g>
<g id="n20_6" class="l"><circle cx="1110.7" cy="868" r="11"/></g>
<g id="n20_7" class="l"><circle cx="1155.7" cy="868" r="11"/></g>
<g id="n20_8" class="l"><circle cx="1200.7" cy="868" r="11"/></g>
<g id="n20_9" class="l"><circle cx="1245.7" cy="868" r="11"/></g>
<g id="n20_10" class="l"><circle cx="1290.7" cy="868" r="11"/></g>
<g id="n20_13" class="b"><circle cx="1425.7" cy="868" r="13.5"/></g>
<g id="n20_14" class="l"><circle cx="1470.7" cy="868" r="11"/></g>
<g id="n20_15" class="l"><circle cx="1515.7" cy="868" r="11"/></g>
<g id="n20_16" class="l"><circle cx="1560.7" cy="868" r="11"/></g>
<g id="n20_17" class="l"><circle cx="1605.7" cy="868" r="11"/></g>
<g id="n21_m15" class="l"><circle cx="165.7" cy="910.2" r="11"/></g>
<g id="n21_m14" class="l"><circle cx="210.7" cy="910.2" r="11"/></g>
<g id="n21_m13" class="l"><circle cx="255.7" cy="910.2" r="11"/></g>
<g id="n21_m5" class="l"><circle cx="615.7" cy="910.2" r="11"/></g>
<g id="n21_m4" class="l"><circle cx="660.7" cy="910.2" r="11"/></g>
<g id="n21_m3" class="l"><circle cx="705.7" cy="910.2" r="11"/></g>
<g id="n21_2" class="l"><circle cx="930.7" cy="910.2" r="11"/></g>
<g id="n21_3" class="l"><circle cx="975.7" cy="910.2" r="11"/></g>
<g id="n21_4" class="l"><circle cx="1020.7" cy="910.2" r="11"/></g>
<g id="n21_12" class="l"><circle cx="1380.7" cy="910.2" r="11"/></g>
<g id="n21_13" class="l"><circle cx="1425.7" cy="910.2" r="11"/></g>
<g id="n21_14" class="l"><circle cx="1470.7" cy="910.2" r="11"/></g>
</g>
</svg>
